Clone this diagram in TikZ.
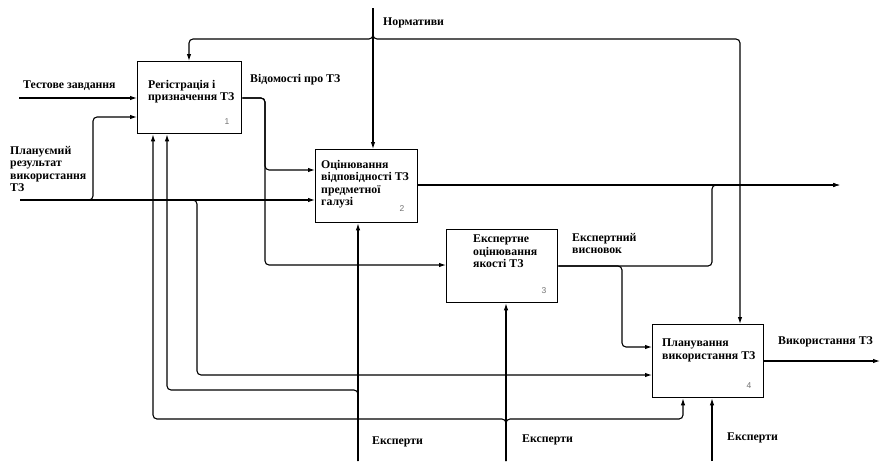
\documentclass[tikz,border=0pt]{standalone}
\usepackage{fontspec}
\setmainfont{Liberation Serif}
\newfontfamily\numfont{Liberation Sans}
\usetikzlibrary{arrows.meta}
\begin{document}
\begin{tikzpicture}[x=1pt,y=-1pt,
  fn/.style={draw, line width=1.3pt, inner sep=0pt, minimum height=73pt, anchor=north west},
  ln/.style={line width=1.1pt, rounded corners=4pt},
  arr/.style={-{Latex[length=7pt,width=4.5pt]}},
  lbl/.style={anchor=north west, inner sep=0pt, align=left,
    font=\bfseries\fontsize{11.8}{12.4}\selectfont},
  num/.style={inner sep=0pt, text=black!55, font=\numfont\fontsize{8.5}{8.5}\selectfont}]
\useasboundingbox (0,0) rectangle (882,461);

% activity boxes
\node[fn, minimum width=104pt, minimum height=72pt] (b1) at (137,61) {};
\node[fn, minimum width=102pt] (b2) at (315,149) {};
\node[fn, minimum width=111pt] (b3) at (446,229) {};
\node[fn, minimum width=111pt] (b4) at (652,324) {};

\node[lbl] (t1) at (148,80) {Регістрація і\\призначення ТЗ};
\node[lbl] (t2) at (321,160) {Оцінювання\\відповідності ТЗ\\предметної\\галузі};
\node[lbl] (t3) at (473,235) {Експертне\\оцінювання\\якості ТЗ};
\node[lbl] (t4) at (662,339) {Планування\\використання ТЗ};

\node[num] (n1) at (227,122) {1};
\node[num] (n2) at (402,209) {2};
\node[num] (n3) at (544,291) {3};
\node[num] (n4) at (749,386) {4};

% arrow labels
\node[lbl] (lNorm) at (383,18) {Нормативи};
\node[lbl] (lTest) at (23,81) {Тестове завдання};
\node[lbl] (lInfo) at (250,74) {Відомості про ТЗ};
\node[lbl] (lPlan) at (10,146) {Плануємий\\результат\\використання\\ТЗ};
\node[lbl] (lConc) at (572,233) {Експертний\\висновок};
\node[lbl] (lUse) at (778,336) {Використання ТЗ};
\node[lbl] (lE2) at (372,437) {Експерти};
\node[lbl] (lE3) at (522,435) {Експерти};
\node[lbl] (lE4) at (727,433) {Експерти};

% routing points
\coordinate (ctlTop) at (373,8);
\coordinate (ctlSplit) at (373,39);
\coordinate (c1) at (189,39);
\coordinate (c4) at (740,39);
\coordinate (inTest) at (19,98);
\coordinate (inPlan) at (20,200);
\coordinate (planUp) at (93,200);
\coordinate (planIn1) at (93,117);
\coordinate (planDn) at (197,200);
\coordinate (planIn4) at (197,375);
\coordinate (o1) at (265,98);
\coordinate (o1a) at (265,170);
\coordinate (o1b) at (265,265);
\coordinate (o3) at (712,266);
\coordinate (o3up) at (712,185);
\coordinate (o3dn) at (622,266);
\coordinate (o3in4) at (622,347);
\coordinate (out2) at (840,185);
\coordinate (out4) at (880,361);
\coordinate (m2) at (358,461);
\coordinate (m2split) at (358,390);
\coordinate (m1b) at (167,390);
\coordinate (m3) at (506,461);
\coordinate (m3split) at (506,419);
\coordinate (m1a) at (153,419);
\coordinate (m4a) at (683,419);
\coordinate (m4) at (712,461);

% controls
\draw[ln,arr] (ctlTop) -- (ctlTop |- b2.north);
\draw[ln,arr] (ctlTop) -- (ctlSplit) -- (c1) -- (c1 |- b1.north);
\draw[ln,arr] (ctlTop) -- (ctlSplit) -- (c4) -- (c4 |- b4.north);

% inputs
\draw[ln,arr] (inTest) -- (inTest -| b1.west);
\draw[ln,arr] (inPlan) -- (inPlan -| b2.west);
\draw[ln,arr] (inPlan) -- (planUp) -- (planIn1) -- (planIn1 -| b1.west);
\draw[ln,arr] (inPlan) -- (planDn) -- (planIn4) -- (planIn4 -| b4.west);

% outputs
\draw[ln,arr] (o1 -| b1.east) -- (o1) -- (o1a) -- (o1a -| b2.west);
\draw[ln,arr] (o1 -| b1.east) -- (o1) -- (o1b) -- (o1b -| b3.west);
\draw[ln,arr] (out2 -| b2.east) -- (out2);
\draw[ln,arr] (o3 -| b3.east) -- (o3) -- (o3up) -- (out2);
\draw[ln,arr] (o3 -| b3.east) -- (o3dn) -- (o3in4) -- (o3in4 -| b4.west);
\draw[ln,arr] (out4 -| b4.east) -- (out4);

% mechanisms
\draw[ln,arr] (m2) -- (m2 |- b2.south);
\draw[ln,arr] (m2) -- (m2split) -- (m1b) -- (m1b |- b1.south);
\draw[ln,arr] (m3) -- (m3 |- b3.south);
\draw[ln,arr] (m3) -- (m3split) -- (m1a) -- (m1a |- b1.south);
\draw[ln,arr] (m3) -- (m3split) -- (m4a) -- (m4a |- b4.south);
\draw[ln,arr] (m4) -- (m4 |- b4.south);
\end{tikzpicture}
\end{document}
